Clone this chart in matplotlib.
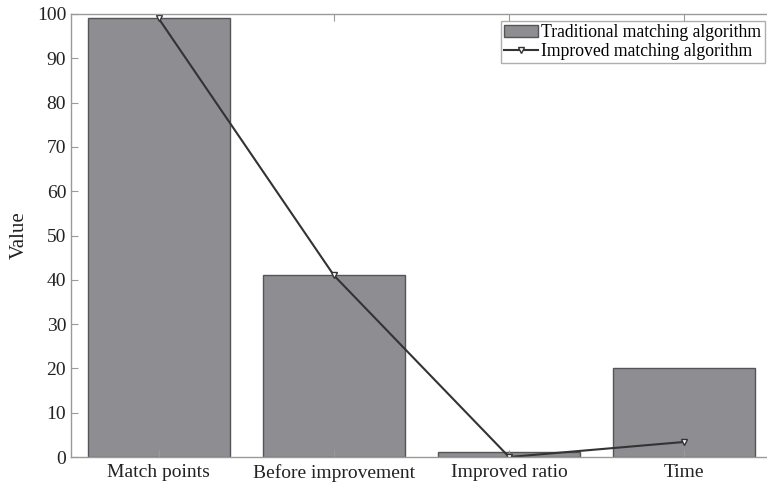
import numpy as np
import matplotlib
matplotlib.use("Agg")
import matplotlib.pyplot as plt

categories = ["Match points", "Before improvement", "Improved ratio", "Time"]
traditional = [99, 41, 1.2, 20]
improved = [99, 41, 0, 3.4]

plt.rcParams['font.family'] = ['Liberation Serif', 'DejaVu Serif']

fig = plt.figure(figsize=(7.67, 4.88), dpi=100)
ax = fig.add_axes([71 / 767, 1 - 457 / 488, (772 - 71) / 767, (457 - 14) / 488])

x = np.arange(len(categories))
bars = ax.bar(x, traditional, width=0.81, color='#8e8e92', edgecolor='#555558',
              linewidth=1.0, label='Traditional matching algorithm')
line, = ax.plot(x, improved, color='#333333', linewidth=1.5, marker='v', markersize=4.5,
                markerfacecolor='white', markeredgecolor='#333333',
                label='Improved matching algorithm')

ax.set_xlim(-0.5, 3.5)
ax.set_ylim(0, 100)
ax.set_yticks(np.arange(0, 101, 10))
ax.set_xticks(x)
ax.set_xticklabels(categories)
ax.set_ylabel('Value', fontsize=15, color='#222222', labelpad=6)

for s in ax.spines.values():
    s.set_color('#9a9a9a')
    s.set_linewidth(1.0)
ax.tick_params(direction='in', top=True, right=False, length=5, color='#9a9a9a',
               labelsize=14, labelcolor='#222222')
ax.tick_params(axis='x', pad=5)

leg = ax.legend([bars, line], [bars.get_label(), line.get_label()],
                loc='upper right', bbox_to_anchor=((765 - 71) / (772 - 71), 0.985),
                fontsize=12.7, frameon=True, fancybox=False, handlelength=1.9,
                handletextpad=0.2, borderpad=0.2, labelspacing=0.1,
                borderaxespad=0.0)
leg.get_frame().set_edgecolor('#9a9a9a')
leg.get_frame().set_linewidth(1.0)

fig.savefig('out.png', dpi=100)
